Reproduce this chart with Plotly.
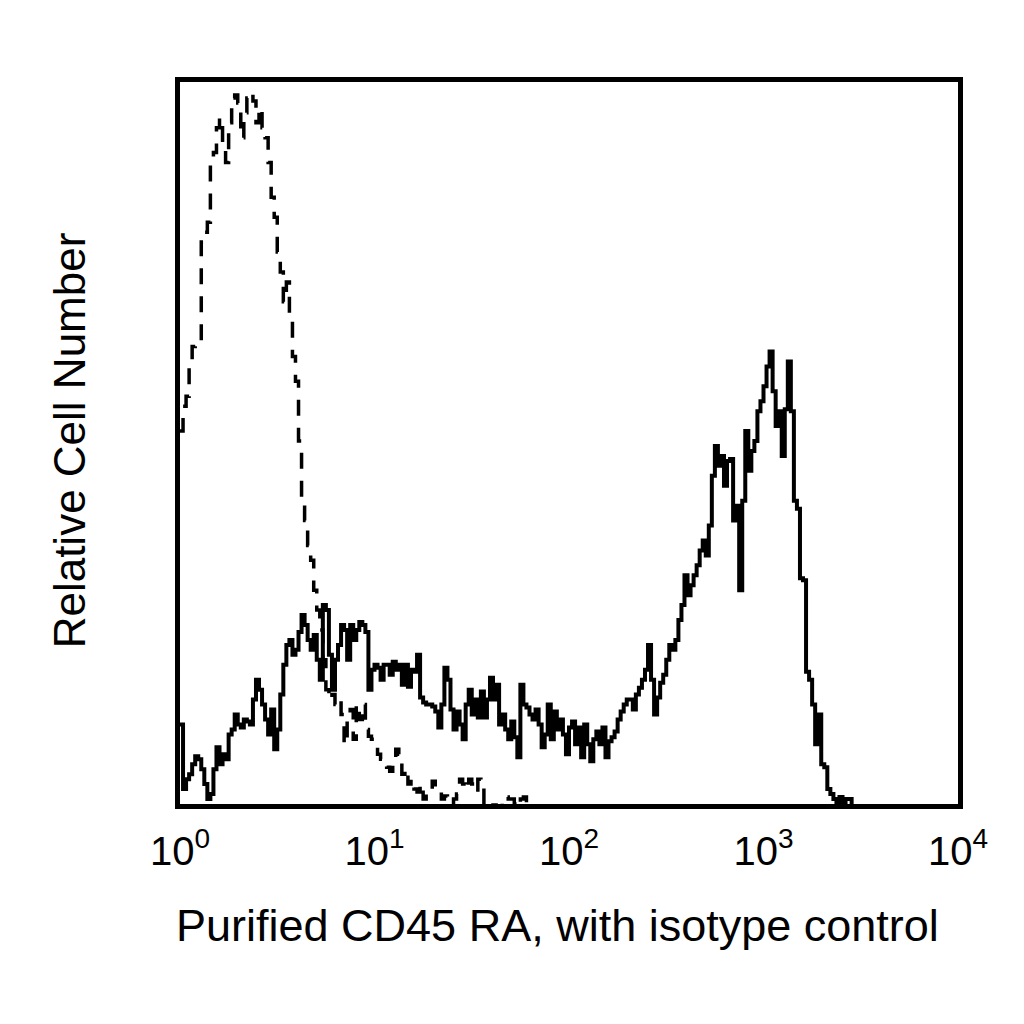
import plotly.graph_objects as go

# relative cell counts per fluorescence channel (256 channels over 4 decades)
cd45ra_counts = [
    83, 18, 28, 33, 43, 51, 48, 38, 23, 8, 13, 38, 60, 43, 53, 48,
    73, 78, 93, 83, 80, 88, 86, 83, 108, 128, 118, 103, 88, 73, 98, 58,
    78, 113, 143, 163, 168, 153, 158, 176, 193, 183, 168, 158, 173, 148, 128, 203,
    198, 153, 118, 148, 163, 183, 178, 148, 183, 168, 178, 186, 183, 176, 118, 138,
    143, 140, 128, 143, 143, 133, 146, 138, 143, 123, 143, 121, 138, 136, 153, 110,
    105, 103, 103, 101, 96, 80, 103, 140, 128, 98, 78, 96, 83, 68, 103, 118,
    93, 108, 90, 116, 90, 108, 130, 108, 123, 83, 93, 78, 68, 86, 70, 50,
    123, 103, 100, 93, 88, 98, 83, 60, 73, 103, 68, 96, 78, 88, 73, 53,
    80, 86, 63, 80, 50, 83, 63, 46, 68, 76, 63, 80, 50, 66, 70, 76,
    88, 96, 103, 108, 108, 98, 113, 120, 128, 138, 163, 128, 93, 110, 125, 133,
    148, 163, 158, 168, 188, 203, 233, 213, 223, 233, 243, 258, 268, 253, 283, 333,
    363, 343, 353, 323, 348, 350, 288, 303, 218, 308, 378, 338, 358, 368, 398, 408,
    423, 443, 458, 418, 383, 398, 353, 400, 448, 398, 308, 300, 230, 228, 136, 128,
    103, 63, 93, 43, 40, 18, 13, 8, 0, 10, 3, 8, 8, 0,
]

isotype_counts = [
    378, 403, 413, 443, 463, 468, 468, 568, 578, 588, 648, 658, 683, 693, 663, 648,
    688, 713, 716, 708, 673, 698, 713, 718, 710, 688, 703, 683, 673, 648, 613, 593,
    558, 538, 508, 528, 488, 453, 428, 368, 308, 288, 263, 248, 218, 198, 178, 148,
    118, 108, 113, 103, 108, 93, 63, 88, 98, 68, 103, 88, 103, 78, 71, 68,
    63, 53, 48, 46, 40, 36, 43, 58, 53, 33, 38, 23, 28, 18, 15, 23,
    8, 13, 18, 26, 20, 18, 8, 11, 8, 3, 8, 13, 28, 23, 18, 28,
    23, 15, 28, 23, 3, 0, 0, 2, 0, 0, 8, 10, 8, 8, 3, 0,
    8, 10, 3, 0,
]

tick_channels = [0, 64, 128, 192, 256]
tick_labels = ["10<sup>0</sup>", "10<sup>1</sup>", "10<sup>2</sup>", "10<sup>3</sup>", "10<sup>4</sup>"]

fig = go.Figure()
fig.add_trace(go.Scatter(
    x=list(range(len(isotype_counts))), y=isotype_counts,
    mode="lines", line=dict(color="black", width=3.5, shape="hv", dash="16px,12px"),
    name="isotype control",
))
fig.add_trace(go.Scatter(
    x=list(range(len(cd45ra_counts))), y=cd45ra_counts,
    mode="lines", line=dict(color="black", width=4, shape="hv"),
    name="CD45 RA",
))

font = "Liberation Sans, Arial, sans-serif"
fig.update_layout(
    width=1024, height=1024,
    margin=dict(l=172, r=74, t=74, b=228),
    paper_bgcolor="white", plot_bgcolor="white",
    showlegend=False,
    font=dict(family=font, color="black"),
    xaxis=dict(
        range=[0, 256], tickvals=tick_channels, ticktext=tick_labels,
        showgrid=False, zeroline=False, showline=True, mirror=True,
        linecolor="black", linewidth=5,
        ticks="outside", ticklen=8, tickcolor="rgba(0,0,0,0)",
        tickfont=dict(size=40, family=font),
    ),
    yaxis=dict(
        range=[3, 729], showticklabels=False, ticks="",
        showgrid=False, zeroline=False, showline=True, mirror=True,
        linecolor="black", linewidth=5,
    ),
    annotations=[
        dict(text="Purified CD45 RA, with isotype control", xref="paper", yref="paper",
             x=0.485, y=-0.168, xanchor="center", yanchor="middle", showarrow=False,
             font=dict(size=45, family=font)),
        dict(text="Relative Cell Number", xref="paper", yref="paper",
             x=-0.142, y=0.503, xanchor="center", yanchor="middle", showarrow=False,
             textangle=-90, font=dict(size=44, family=font)),
    ],
)

fig.write_html("out.html")
